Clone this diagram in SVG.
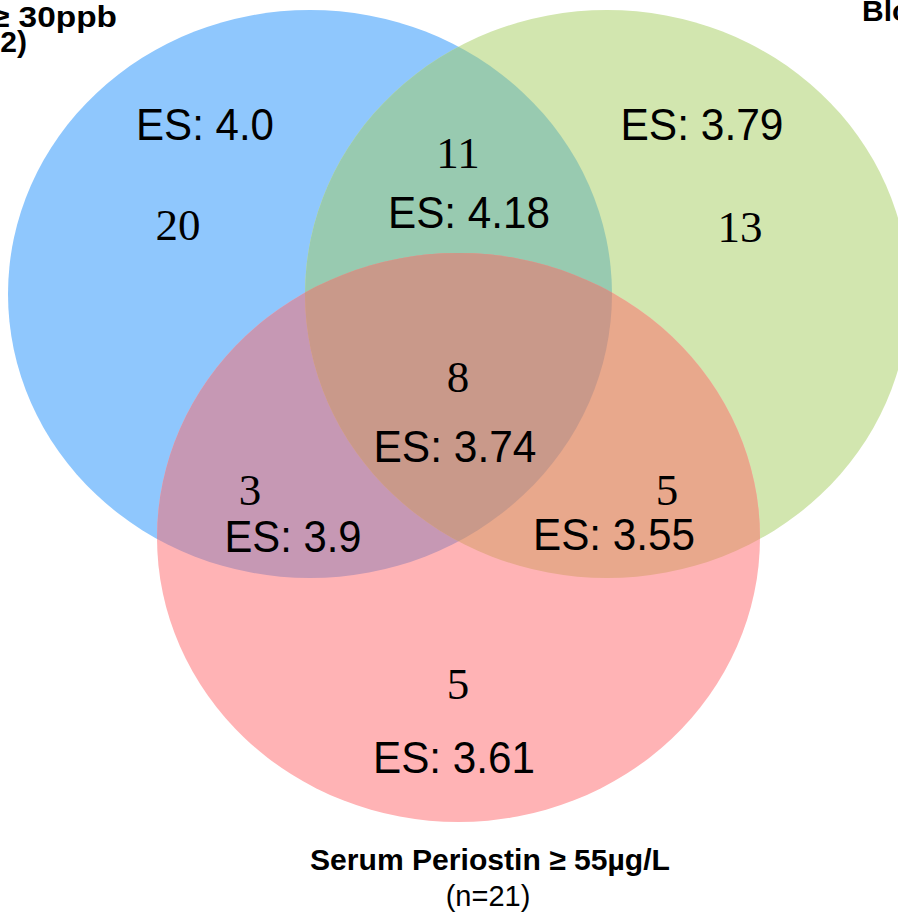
<svg xmlns="http://www.w3.org/2000/svg" width="898" height="920" viewBox="0 0 898 920">
  <style>
    .es { font-family: "Liberation Sans", Arial, sans-serif; font-size: 45px; fill: #000; text-anchor: middle; }
    .num { font-family: "Liberation Serif", "Times New Roman", serif; font-size: 45px; fill: #000; text-anchor: middle; }
    .title { font-family: "Liberation Sans", Arial, sans-serif; font-size: 30px; font-weight: bold; fill: #000; }
    .sub { font-family: "Liberation Sans", Arial, sans-serif; font-size: 29px; fill: #000; text-anchor: middle; }
  </style>
  <defs>
    <clipPath id="clipBlue"><ellipse cx="310" cy="294" rx="302" ry="284"/></clipPath>
    <clipPath id="clipGreen"><ellipse cx="607" cy="294" rx="302" ry="284"/></clipPath>
  </defs>
  <rect x="0" y="0" width="898" height="920" fill="#ffffff"/>

  <g id="set-feno">
    <ellipse cx="310" cy="294" rx="302" ry="284" fill="#8FC7FD"/>
    <text class="title" x="117" y="27" text-anchor="end" textLength="126" lengthAdjust="spacingAndGlyphs">≥ 30ppb</text>
    <text class="title" x="27" y="52" text-anchor="end">2)</text>
  </g>
  <g id="set-blood">
    <ellipse cx="607" cy="294" rx="302" ry="284" fill="#D2E6AF"/>
    <text class="title" x="862" y="21">Blo</text>
  </g>
  <g id="set-periostin">
    <ellipse cx="458.5" cy="537.5" rx="301.5" ry="284.5" fill="#FFB3B5"/>
    <text class="title" x="490" y="870" text-anchor="middle" textLength="360" lengthAdjust="spacingAndGlyphs">Serum Periostin ≥ 55µg/L</text>
    <text class="sub" x="488" y="906">(n=21)</text>
  </g>

  <g id="overlaps">
    <g clip-path="url(#clipBlue)">
      <ellipse cx="607" cy="294" rx="302" ry="284" fill="#98CAB0"/>
      <ellipse cx="458.5" cy="537.5" rx="301.5" ry="284.5" fill="#C698B4"/>
    </g>
    <g clip-path="url(#clipGreen)">
      <ellipse cx="458.5" cy="537.5" rx="301.5" ry="284.5" fill="#E8A88C"/>
    </g>
    <g clip-path="url(#clipBlue)">
      <g clip-path="url(#clipGreen)">
        <ellipse cx="458.5" cy="537.5" rx="301.5" ry="284.5" fill="#C9998A"/>
      </g>
    </g>
  </g>

  <g id="region-feno-only">
    <text class="es" x="205" y="140" textLength="138" lengthAdjust="spacingAndGlyphs">ES: 4.0</text>
    <text class="num" x="178" y="240">20</text>
  </g>
  <g id="region-feno-blood">
    <text class="num" x="458" y="168">11</text>
    <text class="es" x="469" y="228" textLength="162" lengthAdjust="spacingAndGlyphs">ES: 4.18</text>
  </g>
  <g id="region-blood-only">
    <text class="es" x="702" y="140" textLength="163" lengthAdjust="spacingAndGlyphs">ES: 3.79</text>
    <text class="num" x="740" y="242">13</text>
  </g>
  <g id="region-all">
    <text class="num" x="458" y="392">8</text>
    <text class="es" x="455" y="462" textLength="163" lengthAdjust="spacingAndGlyphs">ES: 3.74</text>
  </g>
  <g id="region-feno-periostin">
    <text class="num" x="250" y="505">3</text>
    <text class="es" x="293" y="552" textLength="137" lengthAdjust="spacingAndGlyphs">ES: 3.9</text>
  </g>
  <g id="region-blood-periostin">
    <text class="num" x="667" y="505">5</text>
    <text class="es" x="614" y="550" textLength="162" lengthAdjust="spacingAndGlyphs">ES: 3.55</text>
  </g>
  <g id="region-periostin-only">
    <text class="num" x="458" y="699">5</text>
    <text class="es" x="454" y="773" textLength="162" lengthAdjust="spacingAndGlyphs">ES: 3.61</text>
  </g>
</svg>
